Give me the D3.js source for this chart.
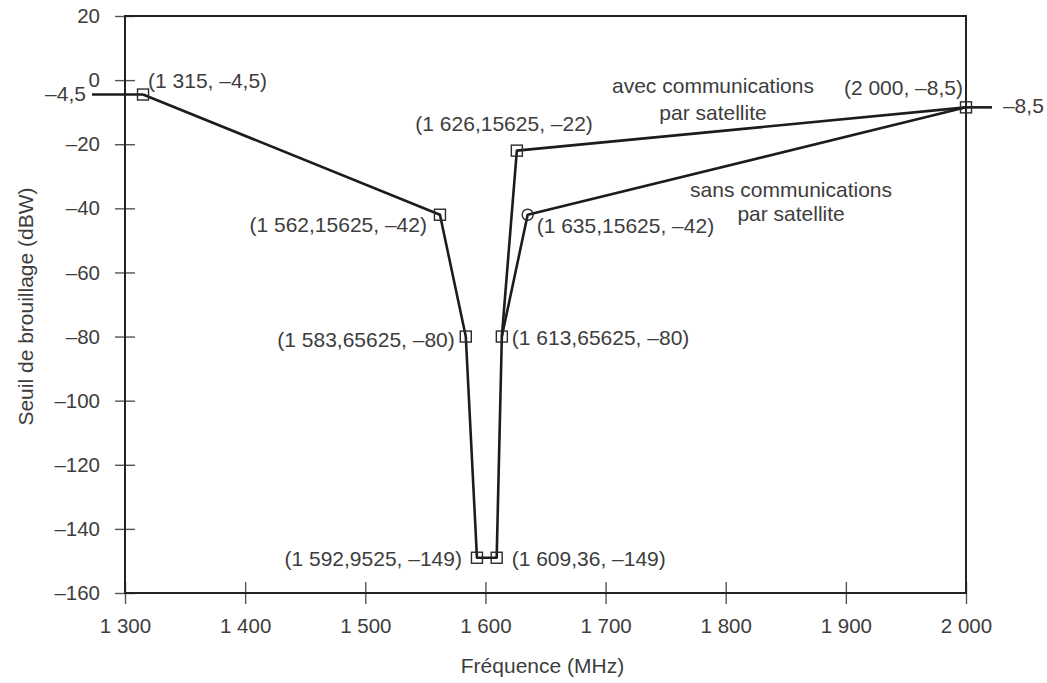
<!DOCTYPE html>
<html lang="fr">
<head>
<meta charset="utf-8">
<script src="https://cdn.jsdelivr.net/npm/d3@7"></script>
<style>
  html, body { margin: 0; padding: 0; background: #fff; }
  svg { display: block; font-family: "Liberation Sans", Arial, Helvetica, sans-serif; }
  .lbl { fill: #3d3d3d; font-size: 21px; }
  .tick text { fill: #3d3d3d; font-size: 20.5px; }
</style>
</head>
<body>
<svg id="chart" width="1047" height="683"></svg>
<script>
// Seuil de brouillage en fonction de la fréquence
const freqAvec  = [1315, 1562.15625, 1583.65625, 1592.9525, 1609.36, 1613.65625, 1626.15625, 2000];
const levelAvec = [-4.5, -42, -80, -149, -149, -80, -22, -8.5];

const freqSans  = [1613.65625, 1635.15625, 2000];
const levelSans = [-80, -42, -8.5];

// Paliers prolongés hors du cadre
const freqLeftExt  = [1272.5, 1315];
const levelLeftExt = [-4.5, -4.5];
const freqRightExt  = [2000, 2021.6];
const levelRightExt = [-8.5, -8.5];

const xTicks = [1300, 1400, 1500, 1600, 1700, 1800, 1900, 2000];
const yTicks = [-160, -140, -120, -100, -80, -60, -40, -20, 0, 20];

// Coordinate label placement (pixel offsets from each marker)
const pointLabelLayout = [
  { f: 1315,       v: -4.5, dx: 5,   dy: -7,  anchor: "start" },
  { f: 1562.15625, v: -42,  dx: -13, dy: 17,  anchor: "end" },
  { f: 1583.65625, v: -80,  dx: -11, dy: 10,  anchor: "end" },
  { f: 1592.9525,  v: -149, dx: -15, dy: 8,   anchor: "end" },
  { f: 1609.36,    v: -149, dx: 15,  dy: 8,   anchor: "start" },
  { f: 1613.65625, v: -80,  dx: 10,  dy: 8,   anchor: "start" },
  { f: 1626.15625, v: -22,  dx: 76,  dy: -20, anchor: "end" },
  { f: 1635.15625, v: -42,  dx: 9,   dy: 18,  anchor: "start" },
  { f: 2000,       v: -8.5, dx: -3,  dy: -12, anchor: "end" }
];

const svg = d3.select("#chart");

const x = d3.scaleLinear().domain([1300, 2000]).range([125, 966]);
const y = d3.scaleLinear().domain([-160, 20]).range([593, 16]);

const fr = d3.formatLocale({ decimal: ",", thousands: "\u00a0", grouping: [3], currency: ["", " €"], minus: "\u2013" });
const fmtNum = fr.format(",~f");
const fmtTick = fr.format(",d");

// Axes: ticks crossing the frame lines
const xAxis = svg.append("g")
  .attr("transform", `translate(0,${y(-160)})`)
  .call(d3.axisBottom(x).tickValues(xTicks).tickSize(11).tickPadding(14)
    .tickFormat(d => fmtTick(d).replace(/\u00a0/g, " ")));
xAxis.select(".domain").remove();
xAxis.selectAll(".tick line").attr("y1", -11).attr("y2", 11)
  .attr("stroke", "#555").attr("stroke-width", 1.4);

const yAxis = svg.append("g")
  .attr("transform", `translate(${x(1300)},0)`)
  .call(d3.axisLeft(y).tickValues(yTicks).tickSize(10).tickPadding(15).tickFormat(fmtTick));
yAxis.select(".domain").remove();
yAxis.selectAll(".tick line").attr("x1", 10).attr("x2", -10)
  .attr("stroke", "#555").attr("stroke-width", 1.4);
svg.selectAll(".tick text").attr("font-family", null).attr("font-size", null);

// Frame
svg.append("rect")
  .attr("x", x(1300)).attr("y", y(20))
  .attr("width", x(2000) - x(1300)).attr("height", y(-160) - y(20))
  .attr("fill", "none").attr("stroke", "#222").attr("stroke-width", 2);

// Curves
const line = d3.line().x(d => x(d[0])).y(d => y(d[1]));
const zipPts = (fs, vs) => fs.map((f, i) => [f, vs[i]]);

const curves = [
  zipPts(freqLeftExt, levelLeftExt),
  zipPts(freqRightExt, levelRightExt),
  zipPts(freqAvec, levelAvec),
  zipPts(freqSans, levelSans)
];
svg.append("g").selectAll("path").data(curves).join("path")
  .attr("d", line)
  .attr("fill", "none").attr("stroke", "#1c1c1c").attr("stroke-width", 2.6)
  .attr("stroke-linejoin", "round");

// Hollow markers (the curve stays visible through them)
const squarePts = zipPts(freqAvec, levelAvec);
svg.append("g").selectAll("rect").data(squarePts).join("rect")
  .attr("x", d => x(d[0]) - 5.5).attr("y", d => y(d[1]) - 5.5)
  .attr("width", 11).attr("height", 11)
  .attr("fill", "none")
  .attr("stroke", "#2a2a2a").attr("stroke-width", 1.4);

svg.append("circle")
  .attr("cx", x(freqSans[1])).attr("cy", y(levelSans[1])).attr("r", 5.5)
  .attr("fill", "none")
  .attr("stroke", "#2a2a2a").attr("stroke-width", 1.4);

// Coordinate labels
svg.append("g").selectAll("text").data(pointLabelLayout).join("text")
  .attr("class", "lbl")
  .attr("x", d => x(d.f) + d.dx).attr("y", d => y(d.v) + d.dy)
  .attr("text-anchor", d => d.anchor)
  .text(d => `(${fmtNum(d.f).replace(/\u00a0/g, " ")}, ${fmtNum(d.v)})`);

// Level values outside the frame
svg.append("text").attr("class", "lbl")
  .attr("x", x(freqLeftExt[0]) - 6).attr("y", y(-4.5) + 6)
  .attr("text-anchor", "end").text(fmtNum(-4.5));
svg.append("text").attr("class", "lbl")
  .attr("x", x(freqRightExt[1]) + 11).attr("y", y(-8.5) + 6)
  .attr("text-anchor", "start").text(fmtNum(-8.5));

// Series names
const seriesNotes = [
  { f: 1789.4, v: -4.0, lines: ["avec communications", "par satellite"], gap: 27 },
  { f: 1854.4, v: -36.5, lines: ["sans communications", "par satellite"], gap: 24 }
];
seriesNotes.forEach(n => {
  const t = svg.append("text").attr("class", "lbl").attr("text-anchor", "middle");
  n.lines.forEach((s, i) => {
    t.append("tspan").attr("x", x(n.f)).attr("y", y(n.v) + i * n.gap).text(s);
  });
});

// Axis titles
svg.append("text").attr("class", "lbl")
  .attr("x", (x(1300) + x(2000)) / 2 - 3).attr("y", 673)
  .attr("text-anchor", "middle").text("Fréquence (MHz)");
svg.append("text").attr("class", "lbl")
  .attr("transform", `translate(33,${(y(20) + y(-160)) / 2 + 2}) rotate(-90)`)
  .attr("text-anchor", "middle").text("Seuil de brouillage (dBW)");
</script>
</body>
</html>
